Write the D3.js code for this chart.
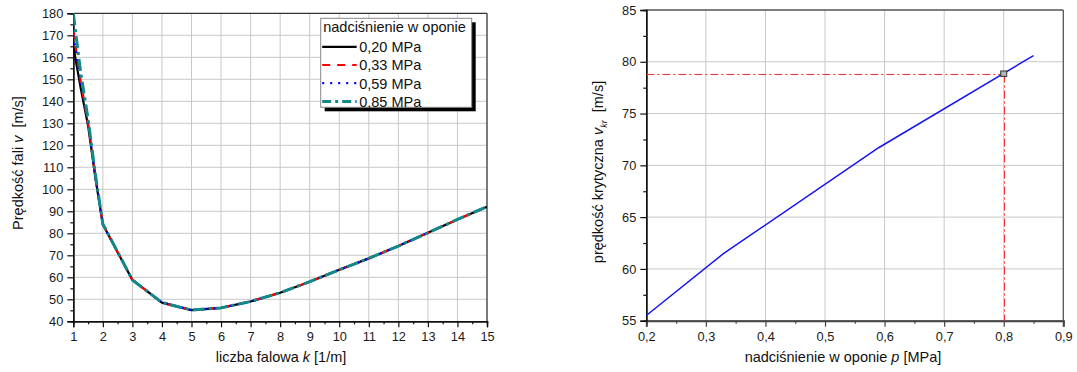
<!DOCTYPE html>
<html><head><meta charset="utf-8">
<script src="https://cdn.jsdelivr.net/npm/d3@7"></script>
<style>
body{margin:0;background:#fff;}
text{font-family:"Liberation Sans",Arial,sans-serif;}
</style></head>
<body>
<svg id="c" width="1077" height="372"></svg>
<script>
// ---- data: left chart ----
const kValues = [1, 1.25, 1.5, 1.75, 2, 3, 4, 5, 6, 7, 8, 9, 10, 11, 12, 13, 14, 15];
const v020 = [165, 146, 129, 105, 84, 58.8, 48.5, 45.1, 46.1, 49, 53, 58, 63.4, 68.6, 74.2, 80.2, 86.3, 92.1];
const v033 = [172, 149, 130, 105.5, 84, 58.8, 48.5, 45.1, 46.1, 49, 53, 58, 63.4, 68.6, 74.2, 80.2, 86.3, 92.1];
const v059 = [170, 149, 130, 105.5, 84, 58.8, 48.5, 45.1, 46.1, 49, 53, 58, 63.4, 68.6, 74.2, 80.2, 86.3, 92.1];
const v085 = [180, 153, 132, 106.5, 84.3, 58.8, 48.5, 45.1, 46.1, 49, 53, 58, 63.4, 68.6, 74.2, 80.2, 86.3, 92.1];
const seriesNames = ["0,20 MPa", "0,33 MPa", "0,59 MPa", "0,85 MPa"];
const leftXTicks = d3.range(1, 16);
const leftYTicks = d3.range(40, 181, 10);
// ---- data: right chart ----
const pValues = [0.2, 0.33, 0.59, 0.85];
const vkrValues = [55.5, 61.5, 71.7, 80.6];
const pMark = [0.8];
const vMark = [78.85];
const rightXTicks = [0.2, 0.3, 0.4, 0.5, 0.6, 0.7, 0.8, 0.9];
const rightYTicks = [55, 60, 65, 70, 75, 80, 85];

const svg = d3.select("#c");
const comma = v => String(v).replace(".", ",");

// ================= LEFT CHART =================
const L = {x0: 73.3, x1: 487, y0: 13.3, y1: 321.3};
const xL = d3.scaleLinear().domain([1, 15]).range([L.x0, L.x1]);
const yL = d3.scaleLinear().domain([40, 180]).range([L.y1, L.y0]);
const gL = svg.append("g");

// grid
gL.append("g").selectAll("line").data(leftXTicks.slice(1, -1)).join("line")
  .attr("x1", d => xL(d)).attr("x2", d => xL(d)).attr("y1", L.y0).attr("y2", L.y1)
  .attr("stroke", "#c8c8c8").attr("stroke-width", 1);
gL.append("g").selectAll("line").data(leftYTicks.slice(1, -1)).join("line")
  .attr("y1", d => yL(d)).attr("y2", d => yL(d)).attr("x1", L.x0).attr("x2", L.x1)
  .attr("stroke", "#c8c8c8").attr("stroke-width", 1);

// frame top/right
gL.append("line").attr("x1", L.x0).attr("x2", L.x1).attr("y1", L.y0).attr("y2", L.y0).attr("stroke", "#333").attr("stroke-width", 1.3);
gL.append("line").attr("x1", L.x1).attr("x2", L.x1).attr("y1", L.y0).attr("y2", L.y1).attr("stroke", "#333").attr("stroke-width", 1.3);

function styleAxis(g, color) {
  g.select(".domain").attr("stroke", color).attr("stroke-width", 1.4);
  g.selectAll(".tick line").attr("stroke", color).attr("stroke-width", 1.2);
  g.selectAll(".tick text").attr("fill", "#1a1a1a").style("font-size", "12.8px").style("font-family", "Liberation Sans, Arial, sans-serif");
}

// minor ticks
const axXLminor = d3.axisBottom(xL).tickValues(d3.range(1.5, 15, 1)).tickSize(3).tickFormat("");
const axYLminor = d3.axisLeft(yL).tickValues(d3.range(45, 180, 10)).tickSize(3).tickFormat("");
gL.append("g").attr("transform", `translate(0,${L.y1})`).call(axXLminor).call(g => styleAxis(g, "#111"));
gL.append("g").attr("transform", `translate(${L.x0},0)`).call(axYLminor).call(g => styleAxis(g, "#111"));
// major ticks
const axXL = d3.axisBottom(xL).tickValues(leftXTicks).tickSize(6).tickPadding(5).tickFormat(d => d);
const axYL = d3.axisLeft(yL).tickValues(leftYTicks).tickSize(6).tickPadding(4).tickFormat(d => d);
gL.append("g").attr("transform", `translate(0,${L.y1})`).call(axXL).call(g => styleAxis(g, "#111"));
gL.append("g").attr("transform", `translate(${L.x0},0)`).call(axYL).call(g => styleAxis(g, "#111"));

// series
const seriesData = [v020, v033, v059, v085];
const seriesStyle = [
  {color: "#000000", width: 2.2, dash: null},
  {color: "#ff0000", width: 2.2, dash: "8,7"},
  {color: "#0000ff", width: 2.2, dash: "2,6"},
  {color: "#138a8a", width: 3, dash: "12,4,3,4"}
];
const lineL = d3.line().x(d => xL(d[0])).y(d => yL(d[1]));
svg.append("defs").append("clipPath").attr("id", "clipL").append("rect")
  .attr("x", L.x0).attr("y", L.y0 - 2).attr("width", L.x1 - L.x0).attr("height", L.y1 - L.y0 + 2);
seriesData.forEach((vals, i) => {
  const pts = kValues.map((k, j) => [k, vals[j]]);
  gL.append("path").datum(pts).attr("d", lineL).attr("fill", "none")
    .attr("clip-path", "url(#clipL)")
    .attr("stroke", seriesStyle[i].color).attr("stroke-width", seriesStyle[i].width)
    .attr("stroke-dasharray", seriesStyle[i].dash).attr("stroke-linejoin", "round");
});

// axis titles
gL.append("text").attr("x", 281).attr("y", 362).attr("text-anchor", "middle").style("font-size", "14.5px").attr("fill", "#111")
  .call(t => { t.append("tspan").text("liczba falowa "); t.append("tspan").style("font-style", "italic").text("k"); t.append("tspan").text(" [1/m]"); });
gL.append("text").attr("transform", "translate(23,163) rotate(-90)").attr("text-anchor", "middle").style("font-size", "14.5px").attr("fill", "#111")
  .call(t => { t.append("tspan").text("Prędkość fali "); t.append("tspan").style("font-style", "italic").text("v"); t.append("tspan").text("\u00a0 [m/s]"); });

// legend
const lg = {x: 320.7, y: 18.3, w: 151, h: 89};
gL.append("rect").attr("x", lg.x + 4).attr("y", lg.y + 4).attr("width", lg.w).attr("height", lg.h).attr("fill", "#000");
gL.append("rect").attr("x", lg.x).attr("y", lg.y).attr("width", lg.w).attr("height", lg.h).attr("fill", "#fff").attr("stroke", "#888").attr("stroke-width", 1);
gL.append("text").attr("x", lg.x + 2.5).attr("y", lg.y + 13.8).style("font-size", "14.5px").attr("fill", "#111").text("nadciśnienie w oponie");
seriesNames.forEach((name, i) => {
  const yy = lg.y + 28.5 + i * 18.2;
  gL.append("line").attr("x1", lg.x + 1.5).attr("x2", lg.x + 36).attr("y1", yy).attr("y2", yy)
    .attr("stroke", seriesStyle[i].color).attr("stroke-width", seriesStyle[i].width)
    .attr("stroke-dasharray", i === 1 ? "8,7" : i === 2 ? "2,6" : i === 3 ? "9,4,3,4" : null);
  gL.append("text").attr("x", lg.x + 38.5).attr("y", yy + 5.3).style("font-size", "14.5px").attr("fill", "#111").text(name);
});

// ================= RIGHT CHART =================
const R = {x0: 646.3, x1: 1063.3, y0: 10, y1: 320.7};
const xR = d3.scaleLinear().domain([0.2, 0.9]).range([R.x0, R.x1]);
const yR = d3.scaleLinear().domain([55, 85]).range([R.y1, R.y0]);
const gR = svg.append("g");

gR.append("g").selectAll("line").data(rightXTicks.slice(1, -1)).join("line")
  .attr("x1", d => xR(d)).attr("x2", d => xR(d)).attr("y1", R.y0).attr("y2", R.y1)
  .attr("stroke", "#c8c8c8").attr("stroke-width", 1);
gR.append("g").selectAll("line").data(rightYTicks.slice(1, -1)).join("line")
  .attr("y1", d => yR(d)).attr("y2", d => yR(d)).attr("x1", R.x0).attr("x2", R.x1)
  .attr("stroke", "#c8c8c8").attr("stroke-width", 1);
gR.append("line").attr("x1", R.x0).attr("x2", R.x1).attr("y1", R.y0).attr("y2", R.y0).attr("stroke", "#555").attr("stroke-width", 1.3);
gR.append("line").attr("x1", R.x1).attr("x2", R.x1).attr("y1", R.y0).attr("y2", R.y1).attr("stroke", "#555").attr("stroke-width", 1.3);

const axXRminor = d3.axisBottom(xR).tickValues(d3.range(0.25, 0.9, 0.1)).tickSize(3).tickFormat("");
const axYRminor = d3.axisLeft(yR).tickValues(d3.range(57.5, 85, 5)).tickSize(3).tickFormat("");
gR.append("g").attr("transform", `translate(0,${R.y1})`).call(axXRminor).call(g => styleAxis(g, "#444"));
gR.append("g").attr("transform", `translate(${R.x0},0)`).call(axYRminor).call(g => styleAxis(g, "#111"));
const axXR = d3.axisBottom(xR).tickValues(rightXTicks).tickSize(6).tickPadding(5).tickFormat(d => comma(d3.format(".1f")(d)));
const axYR = d3.axisLeft(yR).tickValues(rightYTicks).tickSize(6).tickPadding(4).tickFormat(d => d);
gR.append("g").attr("transform", `translate(0,${R.y1})`).call(axXR).call(g => styleAxis(g, "#444"))
  .call(g => g.select(".domain").attr("stroke-width", 2));
gR.append("g").attr("transform", `translate(${R.x0},0)`).call(axYR).call(g => styleAxis(g, "#111"));

// reference dash-dot lines (snapped to pixel centres)
const mkY = Math.round(yR(vMark[0])) + 0.5;
const mkX = Math.round(xR(pMark[0])) + 0.5;
gR.append("line").attr("x1", R.x0).attr("x2", mkX).attr("y1", mkY).attr("y2", mkY)
  .attr("stroke", "#f03030").attr("stroke-width", 1).attr("stroke-dasharray", "8,3,2,3");
gR.append("line").attr("x1", mkX).attr("x2", mkX).attr("y1", mkY).attr("y2", R.y1)
  .attr("stroke", "#f03030").attr("stroke-width", 1).attr("stroke-dasharray", "8,3,2,3");

// curve
const lineR = d3.line().x(d => xR(d)).y((d, i) => yR(vkrValues[i]));
gR.append("path").datum(pValues).attr("d", lineR).attr("fill", "none").attr("stroke", "#1515f0").attr("stroke-width", 1.5);

// marker
gR.selectAll("rect.mk").data(pMark).join("rect").attr("class", "mk")
  .attr("x", d => xR(d) - 3).attr("y", (d, i) => yR(vMark[i]) - 2.7).attr("width", 6).attr("height", 5.4)
  .attr("fill", "#b4b4b4").attr("stroke", "#333").attr("stroke-width", 1);

// titles
gR.append("text").attr("x", 843).attr("y", 362).attr("text-anchor", "middle").style("font-size", "14.5px").attr("fill", "#111")
  .call(t => { t.append("tspan").text("nadciśnienie w oponie "); t.append("tspan").style("font-style", "italic").text("p"); t.append("tspan").text(" [MPa]"); });
gR.append("text").attr("transform", "translate(603,172) rotate(-90)").attr("text-anchor", "middle").style("font-size", "14.5px").attr("fill", "#111")
  .call(t => {
    t.append("tspan").text("prędkość krytyczna ");
    t.append("tspan").style("font-style", "italic").text("v");
    t.append("tspan").style("font-style", "italic").style("font-size", "9px").attr("dy", 4).text("kr");
    t.append("tspan").attr("dy", -4).text("\u00a0 [m/s]");
  });
</script>
</body></html>
